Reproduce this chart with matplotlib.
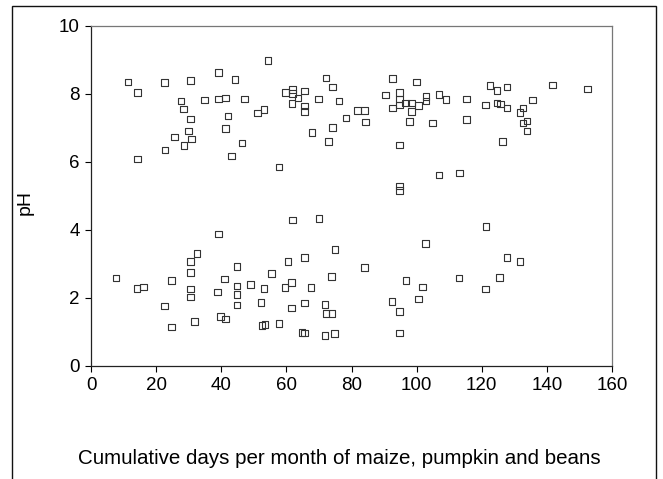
import numpy as np
import matplotlib.pyplot as plt
from matplotlib.patches import Rectangle

plt.rcParams['font.family'] = ['Liberation Sans', 'DejaVu Sans']

# cumulative days (x) and pH (y), upper group
days_high = [11.3, 14.3, 22.6, 30.6, 39.2, 44.2, 54.3, 27.7, 28.4, 34.9,
             39.2, 41.3, 47.1, 42.1, 51.2, 53.1, 30.6, 29.9, 30.9, 25.7,
             28.6, 22.7, 14.3, 41.3, 46.4, 43.2, 57.7, 59.7, 61.9, 61.9,
             65.6, 63.5, 61.8, 65.6, 65.6, 69.9, 72.1, 74.2, 76.2, 67.9,
             74.2, 72.9, 78.3, 81.9, 84.0, 84.3, 90.5, 92.6, 92.6, 94.8,
             94.8, 94.8, 96.6, 98.4, 98.4, 97.8, 99.9, 100.6, 102.9, 102.9,
             94.8, 104.8, 106.9, 109.0, 115.3, 115.3, 106.9, 113.2, 94.7, 94.7,
             121.2, 122.6, 124.7, 127.7, 124.7, 125.7, 127.7, 126.4, 131.8, 132.7,
             132.7, 133.9, 133.9, 135.6, 141.8, 152.5]
ph_high = [8.35, 8.05, 8.34, 8.40, 8.63, 8.43, 8.99, 7.79, 7.56, 7.83,
           7.86, 7.88, 7.85, 7.36, 7.44, 7.54, 7.26, 6.91, 6.68, 6.74,
           6.49, 6.35, 6.09, 6.99, 6.56, 6.18, 5.85, 8.05, 8.13, 8.02,
           8.09, 7.88, 7.72, 7.64, 7.48, 7.86, 8.47, 8.21, 7.79, 6.87,
           7.02, 6.60, 7.29, 7.52, 7.52, 7.17, 7.97, 8.46, 7.59, 8.05,
           7.86, 7.68, 7.74, 7.74, 7.48, 7.19, 8.36, 7.66, 7.93, 7.79,
           6.50, 7.14, 7.98, 7.84, 7.85, 7.25, 5.62, 5.68, 5.29, 5.16,
           7.67, 8.25, 8.10, 8.20, 7.74, 7.71, 7.59, 6.60, 7.45, 7.59,
           7.14, 7.21, 6.91, 7.83, 8.27, 8.15]

# lower group
days_low = [7.7, 14.2, 16.1, 24.7, 22.5, 24.7, 30.5, 32.6, 30.5, 30.5,
            30.5, 31.8, 39.1, 41.0, 38.8, 39.8, 41.3, 44.9, 44.9, 44.9,
            44.9, 49.0, 53.1, 52.2, 52.5, 53.4, 55.5, 57.7, 60.5, 59.6,
            61.6, 61.6, 61.9, 65.5, 65.5, 64.8, 65.6, 67.6, 70.0, 71.8,
            72.1, 74.0, 71.9, 74.8, 73.9, 74.9, 84.0, 92.5, 94.7, 94.7,
            96.8, 101.8, 100.5, 102.7, 113.0, 121.2, 121.3, 125.5, 127.7, 131.8]
ph_low = [2.59, 2.28, 2.32, 2.51, 1.76, 1.14, 3.08, 3.31, 2.75, 2.26,
          2.03, 1.31, 3.88, 2.56, 2.17, 1.46, 1.38, 2.93, 2.36, 2.10,
          1.79, 2.39, 2.28, 1.87, 1.19, 1.22, 2.72, 1.25, 3.07, 2.31,
          2.46, 1.70, 4.30, 3.19, 1.85, 0.99, 0.97, 2.31, 4.34, 1.81,
          1.54, 1.54, 0.89, 0.96, 2.63, 3.43, 2.90, 1.89, 1.61, 0.97,
          2.52, 2.32, 1.97, 3.61, 2.59, 2.27, 4.11, 2.61, 3.19, 3.08]

fig = plt.figure(figsize=(6.63, 4.79), dpi=100)
ax = fig.add_axes([91 / 663, 1 - 366 / 479, 521 / 663, 340 / 479])

x = np.array(days_high + days_low)
y = np.array(ph_high + ph_low)
ax.scatter(x, y, marker='s', s=22, facecolors='none', edgecolors='#333333',
           linewidths=0.8)

ax.set_xlim(0, 160)
ax.set_ylim(0, 10)
ax.set_xticks(np.arange(0, 161, 20))
ax.set_yticks(np.arange(0, 11, 2))
ax.tick_params(direction='out', length=4, width=0.8, labelsize=13.5, pad=4)

for side in ['left', 'bottom']:
    ax.spines[side].set_color('#222222')
    ax.spines[side].set_linewidth(0.9)
for side in ['top', 'right']:
    ax.spines[side].set_color('#777777')
    ax.spines[side].set_linewidth(0.9)

ax.set_ylabel('pH', fontsize=14)
ax.yaxis.set_label_coords(-0.11, 0.48)
ax.set_xlabel('Cumulative days per month of maize, pumpkin and beans', fontsize=14.8)
ax.xaxis.set_label_coords(0.476, -0.245)

# frame around the whole figure
fig.patches.append(Rectangle((12 / 663, -0.05), 644 / 663, 1.05 - 6 / 479,
                             transform=fig.transFigure, fill=False,
                             edgecolor='#111111', linewidth=1.0))

plt.savefig('out.png', dpi=100)
